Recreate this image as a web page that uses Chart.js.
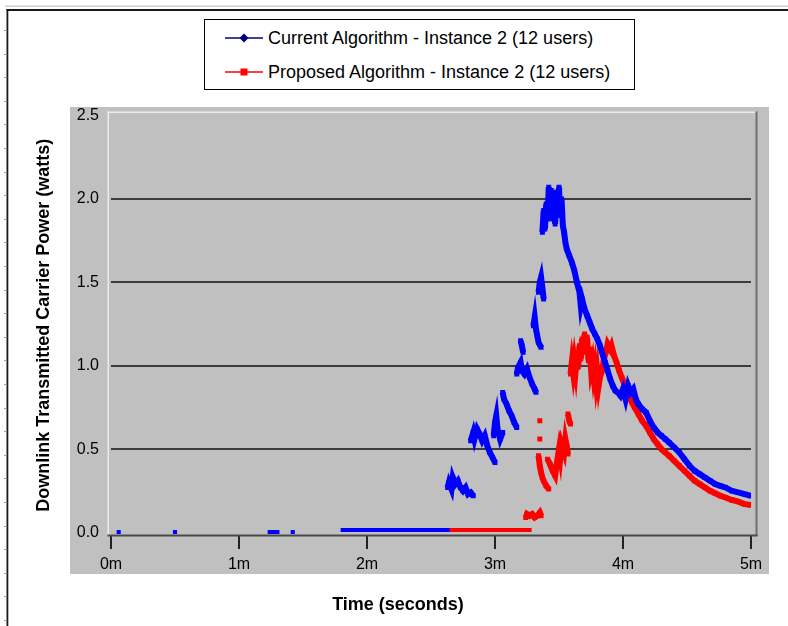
<!DOCTYPE html>
<html>
<head>
<meta charset="utf-8">
<script src="https://cdn.jsdelivr.net/npm/chart.js@4.4.1/dist/chart.umd.min.js"></script>
<style>
html,body{margin:0;padding:0;background:#fff;}
#wrap{position:relative;width:788px;height:626px;overflow:hidden;}
#c{position:absolute;left:0;top:0;}
#legend{position:absolute;left:204px;top:19px;width:431px;height:71px;border:1px solid #000;background:#fff;box-sizing:border-box;font-family:"Liberation Sans",Arial,sans-serif;font-size:18px;color:#000;}
.row{position:absolute;left:0;height:22px;line-height:22px;white-space:nowrap;}
.row svg{position:absolute;left:20px;top:2px;}
.row span{position:absolute;left:63px;top:0;}
</style>
</head>
<body>
<div id="wrap">
<canvas id="c" width="788" height="626"></canvas>
<div id="legend"></div>
</div>
<script>
// ---------- data (time in minutes, power in watts; null = gap) ----------
const seriesNames = [
  'Current Algorithm - Instance 2 (12 users)',
  'Proposed Algorithm - Instance 2 (12 users)'
];
const xTickLabels = ['0m', '1m', '2m', '3m', '4m', '5m'];
const yTickLabels = ['0.0', '0.5', '1.0', '1.5', '2.0', '2.5'];

const currentTime = [
  0.06, 0.06,
  0.50, 0.50,
  1.24, 1.27, 1.30, 1.30,
  1.42, 1.42,
  1.81, 1.90, 2.00, 2.10, 2.20, 2.30, 2.40, 2.50, 2.63, 2.63,
  2.63, 2.64, 2.66, 2.67, 2.69, 2.71, 2.73, 2.75, 2.77, 2.79, 2.81, 2.83, 2.83,
  2.81, 2.83, 2.84, 2.86, 2.88, 2.90, 2.92, 2.94, 2.96, 2.98, 3.00, 3.00,
  2.99, 3.00, 3.01, 3.02, 3.04, 3.06, 3.06,
  3.06, 3.07, 3.09, 3.11, 3.13, 3.15, 3.17, 3.17,
  3.17, 3.18, 3.20, 3.21, 3.23, 3.25, 3.27, 3.29, 3.31, 3.32, 3.32,
  3.20, 3.21, 3.22, 3.22,
  3.30, 3.31, 3.32, 3.33, 3.34, 3.36, 3.36,
  3.34, 3.35, 3.36, 3.37, 3.38, 3.38,
  3.37, 3.38, 3.39, 3.40, 3.41, 3.42, 3.43, 3.44, 3.45, 3.46, 3.47, 3.48, 3.49, 3.50,
  3.51, 3.52, 3.53, 3.54, 3.55, 3.56, 3.58, 3.60, 3.62, 3.64, 3.66, 3.67, 3.68, 3.70,
  3.72, 3.74, 3.76, 3.78, 3.80, 3.82, 3.84, 3.86, 3.88, 3.90, 3.92, 3.94, 3.96, 3.98,
  4.00, 4.02, 4.04, 4.06, 4.08, 4.10, 4.12, 4.15, 4.18, 4.21, 4.24, 4.27, 4.30, 4.33,
  4.36, 4.40, 4.44, 4.48, 4.52, 4.56, 4.60, 4.64, 4.68, 4.72, 4.76, 4.80, 4.85, 4.90,
  4.95, 5.00
];
const currentPower = [
  0.003, null,
  0.003, null,
  0.003, 0.003, 0.003, null,
  0.003, null,
  0.015, 0.015, 0.015, 0.015, 0.015, 0.015, 0.015, 0.015, 0.015, null,
  0.27, 0.30, 0.26, 0.33, 0.29, 0.31, 0.27, 0.25, 0.27, 0.23, 0.24, 0.22, null,
  0.55, 0.60, 0.56, 0.62, 0.59, 0.55, 0.58, 0.52, 0.48, 0.45, 0.42, null,
  0.58, 0.66, 0.70, 0.62, 0.56, 0.60, null,
  0.84, 0.80, 0.77, 0.73, 0.70, 0.66, 0.63, null,
  0.95, 0.99, 1.02, 0.97, 0.95, 0.98, 0.93, 0.89, 0.86, 0.84, null,
  1.15, 1.12, 1.08, null,
  1.24, 1.29, 1.22, 1.18, 1.14, 1.11, null,
  1.44, 1.50, 1.53, 1.47, 1.40, null,
  1.80, 1.93, 1.82, 1.97, 1.88, 2.07, 1.92, 2.05, 1.88, 1.98, 1.85, 2.04, 1.95, 2.07,
  1.90, 2.00, 1.84, 1.80, 1.74, 1.70, 1.66, 1.62, 1.57, 1.50, 1.44, 1.36, 1.40, 1.34,
  1.30, 1.26, 1.22, 1.19, 1.16, 1.12, 1.07, 1.02, 0.97, 0.92, 0.88, 0.85, 0.84, 0.82,
  0.86, 0.80, 0.88, 0.84, 0.86, 0.80, 0.77, 0.74, 0.72, 0.67, 0.63, 0.60, 0.58, 0.56,
  0.54, 0.51, 0.48, 0.44, 0.40, 0.37, 0.35, 0.33, 0.31, 0.29, 0.28, 0.27, 0.25, 0.24,
  0.23, 0.22
];

const proposedTime = [
  2.63, 2.70, 2.80, 2.90, 3.00, 3.10, 3.20, 3.27, 3.27,
  3.24, 3.25, 3.27, 3.29, 3.31, 3.33, 3.35, 3.36, 3.36,
  3.35, 3.35,
  3.35, 3.35,
  3.34, 3.35, 3.36, 3.37, 3.38, 3.40, 3.42, 3.42,
  3.41, 3.43, 3.45, 3.47, 3.48, 3.49, 3.50, 3.51, 3.52, 3.54, 3.55, 3.56, 3.57, 3.57,
  3.57, 3.58, 3.59, 3.59,
  3.59, 3.60, 3.61, 3.62, 3.63, 3.64, 3.65, 3.66, 3.67, 3.68, 3.69, 3.70, 3.71, 3.72,
  3.73, 3.74, 3.75, 3.76, 3.77, 3.78, 3.79, 3.80, 3.81, 3.82, 3.84, 3.85, 3.87, 3.88,
  3.90, 3.91, 3.93, 3.95, 3.97, 3.99, 4.01, 4.03, 4.05, 4.07, 4.09, 4.12, 4.15, 4.18,
  4.21, 4.24, 4.27, 4.30, 4.33, 4.36, 4.40, 4.44, 4.48, 4.52, 4.56, 4.60, 4.64, 4.68,
  4.72, 4.76, 4.80, 4.85, 4.90, 4.95, 5.00
];
const proposedPower = [
  0.015, 0.015, 0.015, 0.015, 0.015, 0.015, 0.015, 0.015, null,
  0.09, 0.11, 0.10, 0.11, 0.09, 0.10, 0.12, 0.10, null,
  0.67, null,
  0.56, null,
  0.46, 0.40, 0.36, 0.33, 0.31, 0.28, 0.26, null,
  0.44, 0.41, 0.37, 0.34, 0.40, 0.45, 0.50, 0.45, 0.53, 0.48, 0.56, 0.52, 0.47, null,
  0.71, 0.67, 0.65, null,
  0.95, 1.02, 0.96, 1.03, 0.97, 1.06, 0.99, 1.12, 1.04, 1.16, 1.08, 1.19, 1.10, 1.17,
  1.03, 1.10, 0.98, 1.02, 0.94, 0.99, 0.90, 0.96, 0.88, 0.93, 0.98, 1.04, 1.09, 1.13,
  1.10, 1.12, 1.06, 1.02, 0.97, 0.93, 0.89, 0.85, 0.81, 0.78, 0.75, 0.71, 0.67, 0.64,
  0.60, 0.56, 0.53, 0.50, 0.48, 0.46, 0.43, 0.40, 0.37, 0.34, 0.31, 0.29, 0.27, 0.25,
  0.235, 0.22, 0.21, 0.195, 0.185, 0.17, 0.165
];

const seriesColors = ['#0000ff', '#ff0000'];
const legendLineColors = ['#000080', '#ff0000'];

// ---------- build ----------
const toPoints = (xs, ys) => xs.map((x, i) => ({ x: x, y: ys[i] }));

const legend = document.getElementById('legend');
seriesNames.forEach((name, i) => {
  const row = document.createElement('div');
  row.className = 'row';
  row.style.top = (i === 0 ? 7 : 41) + 'px';
  const marker = i === 0
    ? '<polygon points="19,4.5 23.5,9 19,13.5 14.5,9" fill="' + legendLineColors[i] + '"/>'
    : '<rect x="15.5" y="5.5" width="7" height="7" fill="' + legendLineColors[i] + '"/>';
  row.innerHTML = '<svg width="40" height="18"><line x1="0" y1="9" x2="38" y2="9" stroke="' +
    legendLineColors[i] + '" stroke-width="1.5"/>' + marker + '</svg><span>' + name + '</span>';
  legend.appendChild(row);
});

const framePlugin = {
  id: 'frame',
  beforeDraw(chart) {
    const ctx = chart.ctx, a = chart.chartArea;
    ctx.save();
    ctx.fillStyle = '#ffffff';
    ctx.fillRect(0, 0, chart.width, chart.height);
    // page frame
    ctx.fillStyle = '#cfcfcf';
    ctx.fillRect(5, 5.5, chart.width - 5, 1.5);
    ctx.fillStyle = '#1a1a1a';
    ctx.fillRect(6.5, 9, chart.width - 6.5, 2);
    ctx.fillRect(6.5, 9, 1.8, chart.height - 9);
    ctx.fillStyle = '#a0a0a0';
    for (let y = 30; y < chart.height; y += 23.6) ctx.fillRect(4, Math.round(y), 2.5, 1);
    // grey panel
    ctx.fillStyle = '#c0c0c0';
    ctx.fillRect(a.left - 41, a.top - 8.5, (a.right + 18) - (a.left - 41), (a.bottom + 39) - (a.top - 8.5));
    ctx.restore();
  },
  beforeDatasetsDraw(chart) {
    const ctx = chart.ctx, a = chart.chartArea;
    const L = a.left - 3.5, T = a.top - 4, R = a.right + 4.5, B = a.bottom;
    ctx.save();
    ctx.fillStyle = '#ececec';
    ctx.fillRect(L, T, 1.5, B - T);
    ctx.fillRect(L, T, R - L, 1.5);
    ctx.fillStyle = '#707070';
    ctx.fillRect(R, T, 2, B - T + 1);
    ctx.fillStyle = '#4a4a4a';
    ctx.fillRect(L, B - 0.5, R - L + 2, 2);
    ctx.restore();
  }
};

const baseDataset = {
  showLine: true,
  borderWidth: 6,
  pointStyle: 'rect',
  pointRadius: (c) => (c.raw && c.raw.y !== null && c.raw.y < 0.05) ? 2.9 : 3.5,
  pointBorderWidth: 0,
  tension: 0,
  spanGaps: false,
  borderJoinStyle: 'miter',
  segment: {
    borderWidth: (c) => (c.p0.parsed.y < 0.05 && c.p1.parsed.y < 0.05) ? 4 : 6
  }
};

new Chart(document.getElementById('c'), {
  type: 'scatter',
  data: {
    datasets: [
      Object.assign({}, baseDataset, {
        label: seriesNames[0],
        data: toPoints(currentTime, currentPower),
        borderColor: seriesColors[0],
        backgroundColor: seriesColors[0],
        pointBackgroundColor: seriesColors[0]
      }),
      Object.assign({}, baseDataset, {
        label: seriesNames[1],
        data: toPoints(proposedTime, proposedPower),
        borderColor: seriesColors[1],
        backgroundColor: seriesColors[1],
        pointBackgroundColor: seriesColors[1]
      })
    ]
  },
  options: {
    responsive: false,
    animation: false,
    devicePixelRatio: 1,
    events: [],
    layout: { padding: { left: 45, right: 37, top: 115.5, bottom: 0 } },
    plugins: {
      legend: { display: false },
      tooltip: { enabled: false },
      title: {
        display: true,
        position: 'bottom',
        text: 'Time (seconds)',
        color: '#000',
        font: { family: '"Liberation Sans", Arial, sans-serif', size: 18, weight: 'bold' },
        padding: { top: 0, bottom: 10 }
      }
    },
    scales: {
      x: {
        type: 'linear',
        position: 'bottom',
        min: 0,
        max: 5,
        afterFit: s => { s.height = 626 - 31.6 - 535; },
        border: { display: false },
        grid: {
          drawOnChartArea: false,
          drawTicks: true,
          tickLength: 14,
          color: '#222',
          lineWidth: 2
        },
        ticks: {
          stepSize: 1,
          maxRotation: 0,
          autoSkip: false,
          padding: 6,
          color: '#000',
          font: { family: '"Liberation Sans", Arial, sans-serif', size: 16 },
          callback: (v) => xTickLabels[Math.round(v)]
        }
      },
      y: {
        type: 'linear',
        position: 'left',
        min: -0.015,
        max: 2.5,
        afterFit: s => { s.width = 66; },
        border: { display: false },
        grid: {
          drawTicks: false,
          lineWidth: 2,
          color: (c) => (c.tick && (c.tick.value <= 0.001 || c.tick.value >= 2.499)) ? 'rgba(0,0,0,0)' : '#3c3c3c'
        },
        ticks: {
          stepSize: 0.5,
          includeBounds: false,
          padding: 12,
          color: '#000',
          font: { family: '"Liberation Sans", Arial, sans-serif', size: 16 },
          callback: (v) => yTickLabels[Math.round(v / 0.5)]
        },
        title: {
          display: true,
          text: 'Downlink Transmitted Carrier Power (watts)',
          color: '#000',
          font: { family: '"Liberation Sans", Arial, sans-serif', size: 18, weight: 'bold' },
          padding: { top: -12, bottom: 0 }
        }
      }
    }
  },
  plugins: [framePlugin]
});
</script>
</body>
</html>
